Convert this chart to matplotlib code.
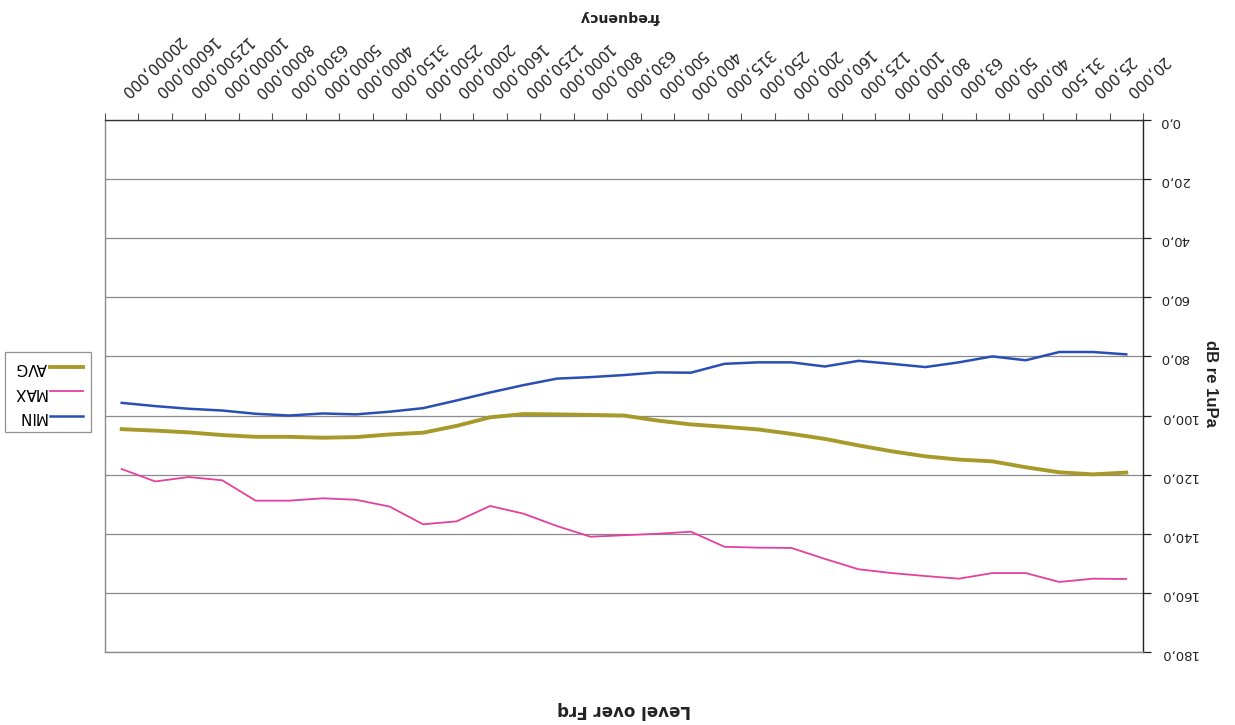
import matplotlib
matplotlib.use("Agg")
import matplotlib.pyplot as plt
from matplotlib.ticker import FixedLocator, NullFormatter

plt.rcParams['font.family'] = ['DejaVu Sans']

# third-octave band centre frequencies (Hz)
freqs = [20, 25, 31.5, 40, 50, 63, 80, 100, 125, 160, 200, 250, 315, 400, 500,
         630, 800, 1000, 1250, 1600, 2000, 2500, 3150, 4000, 5000, 6300, 8000,
         10000, 12500, 16000, 20000]
freq_labels = [f"{f:.3f}".replace('.', ',') for f in freqs]

# levels in dB re 1uPa
level_min = [79.3, 78.5, 78.5, 81.3, 80.0, 82.0, 83.6, 82.5, 81.5, 83.4, 82.0,
             82.0, 82.5, 85.5, 85.4, 86.3, 87.0, 87.5, 89.7, 92.2, 94.9, 97.5,
             98.7, 99.6, 99.3, 100.0, 99.4, 98.3, 97.7, 96.8, 95.7]
level_max = [155.3, 155.2, 156.3, 153.3, 153.3, 155.2, 154.3, 153.3, 152.0,
             148.5, 144.8, 144.7, 144.4, 139.3, 140.0, 140.5, 141.0, 137.4,
             133.2, 130.6, 135.8, 136.8, 130.8, 128.5, 128.0, 128.8, 128.8,
             121.9, 120.8, 122.3, 118.1]
level_avg = [119.3, 119.9, 119.2, 117.5, 115.5, 114.9, 113.8, 112.1, 110.1,
             107.9, 106.2, 104.7, 103.8, 103.0, 101.7, 100.0, 99.8, 99.6, 99.5,
             100.6, 103.5, 105.8, 106.4, 107.3, 107.5, 107.2, 107.2, 106.6,
             105.7, 105.1, 104.6]

y_ticks = list(range(0, 181, 20))

fig = plt.figure(figsize=(12.35, 7.25), dpi=100)
ax = fig.add_axes([0.085, 0.1007, 0.8405, 0.7338])

x = list(range(len(freqs)))
l_min, = ax.plot(x, level_min, color='#2a4fb4', lw=1.8, label='MIN')
l_max, = ax.plot(x, level_max, color='#e4409e', lw=1.3, label='MAX')
l_avg, = ax.plot(x, level_avg, color='#a89a2a', lw=2.8, label='AVG')

# whole sheet is printed upside down: flip both axes
ax.set_xlim(len(freqs) - 0.5, -0.5)
ax.set_ylim(180, 0)

ax.set_yticks(y_ticks)
ax.set_yticklabels([f"{v:.1f}".replace('.', ',') for v in y_ticks],
                   rotation=180, fontsize=9.5)
ax.yaxis.tick_right()
ax.tick_params(axis='y', direction='out', length=6, width=0.9, pad=6, colors='#222222')

ax.xaxis.tick_top()
ax.set_xticks(x)
ax.set_xticklabels(freq_labels, rotation=223, rotation_mode='anchor',
                   ha='right', va='center', fontsize=11)
ax.tick_params(axis='x', which='major', length=0, pad=18, colors='#222222')
ax.xaxis.set_minor_locator(FixedLocator([i + 0.5 for i in range(-1, len(freqs))]))
ax.xaxis.set_minor_formatter(NullFormatter())
ax.tick_params(axis='x', which='minor', direction='out', length=5, width=0.8,
               color='#555555', top=True, bottom=False)

ax.grid(axis='y', color='#8a8a8a', lw=0.9)
ax.set_axisbelow(True)

for side, col in (('left', '#8a8a8a'), ('bottom', '#8a8a8a'),
                  ('right', '#222222'), ('top', '#333333')):
    ax.spines[side].set_color(col)
    ax.spines[side].set_linewidth(1.0)

# axis titles and chart title, all upside down
fig.text(1211 / 1235, 1 - 383 / 725, 'dB re 1uPa', rotation=270,
         ha='center', va='center', fontsize=12, fontweight='bold',
         family='Liberation Sans', color='#222222')
fig.text(620 / 1235, 1 - 17 / 725, 'frequency', rotation=180,
         ha='center', va='center', fontsize=10.2, fontweight='bold',
         color='#222222')
fig.text(624 / 1235, 1 - 710 / 725, 'Level over Frq', rotation=180,
         ha='center', va='center', fontsize=12, fontweight='bold',
         color='#222222')

leg = fig.legend([l_avg, l_max, l_min], ['AVG', 'MAX', 'MIN'],
                 loc='center left', bbox_to_anchor=(5 / 1235, 1 - 392 / 725),
                 markerfirst=False, fontsize=11, frameon=True, fancybox=False,
                 edgecolor='#777777', handlelength=2.2, handletextpad=0.2,
                 labelspacing=0.62, borderpad=0.5, borderaxespad=0)
leg.get_frame().set_linewidth(0.9)
for t in leg.get_texts():
    t.set_rotation(180)

fig.savefig('out.png', dpi=100, facecolor='white')
